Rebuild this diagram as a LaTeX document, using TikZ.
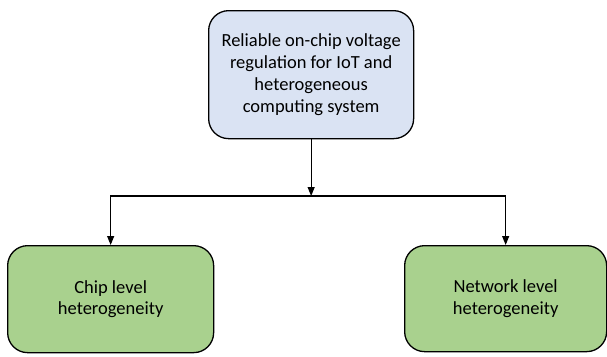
\documentclass[tikz,border=0pt]{standalone}
\usepackage{fontspec}
\setmainfont{Carlito}
\usetikzlibrary{arrows.meta}
\definecolor{topfill}{HTML}{DAE3F3}
\definecolor{leaffill}{HTML}{A9D18E}
\begin{document}
\begin{tikzpicture}[x=1pt,y=-1pt,
  box/.style={draw=black,line width=1.3pt,rounded corners=20pt,align=center,
    font=\fontsize{18.5}{21.7}\selectfont,inner sep=0pt,anchor=north west},
  conn/.style={draw=black,line width=1.1pt,-{Triangle[length=9pt,width=7pt]}}]
\useasboundingbox (0,0) rectangle (607,356);
\node[box,fill=topfill,minimum width=205pt,minimum height=128pt] (top) at (208,10)
  {Reliable on-chip voltage\\regulation for IoT and\\heterogeneous\\computing system};
\node[box,fill=leaffill,minimum width=206pt,minimum height=107pt] (left) at (7,245)
  {Chip level\\heterogeneity};
\node[box,fill=leaffill,minimum width=202pt,minimum height=106pt] (right) at (404,245)
  {Network level\\heterogeneity};
\coordinate (j) at (top.south |- 0,196);
\draw[conn] (top.south) -- (j);
\draw[conn] (j) -| (left.north);
\draw[conn] (j) -| (right.north);
\end{tikzpicture}
\end{document}
